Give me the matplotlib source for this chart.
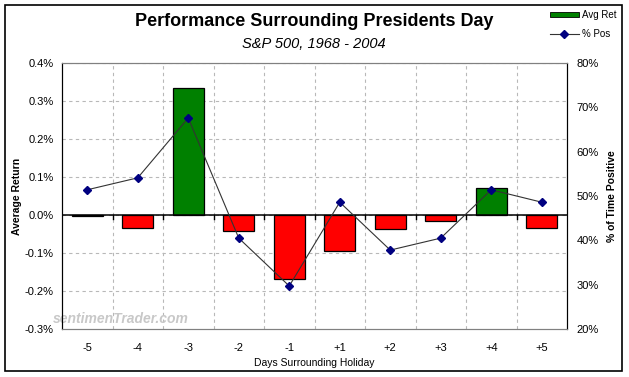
import numpy as np
import matplotlib.pyplot as plt
from matplotlib.ticker import FuncFormatter
from matplotlib.lines import Line2D
from matplotlib.patches import Patch, Rectangle

days = ['-5', '-4', '-3', '-2', '-1', '+1', '+2', '+3', '+4', '+5']
avg_ret = [-0.003, -0.034, 0.334, -0.042, -0.168, -0.095, -0.037, -0.016, 0.071, -0.035]
pct_pos = [51.4, 54.1, 67.6, 40.5, 29.7, 48.6, 37.8, 40.5, 51.4, 48.6]

plt.rcParams['font.family'] = ['Liberation Sans', 'DejaVu Sans']

fig = plt.figure(figsize=(6.29, 3.77), dpi=100)
W, H = 629, 377
ax = fig.add_axes([62 / W, 1 - 329 / H, (567 - 62) / W, (329 - 63) / H])
x = np.arange(len(days))
colors = ['#008000' if v > 0 else '#ff0000' for v in avg_ret]
ax.bar(x, avg_ret, width=0.62, color=colors, edgecolor='black', linewidth=0.9, zorder=3)
ax.set_xlim(-0.5, len(days) - 0.5)
ax.set_ylim(-0.3, 0.4)
ax.set_yticks(np.arange(-0.3, 0.41, 0.1))
ax.yaxis.set_major_formatter(FuncFormatter(lambda v, p: '%.1f%%' % v))
ax.set_xticks(x)
ax.set_xticklabels(days, fontsize=8)
ax.tick_params(axis='x', length=0, pad=10)
ax.tick_params(axis='y', labelsize=8, length=0, pad=6)
ax.axhline(0, color='black', lw=1.1, zorder=4)
# grid: horizontal at ticks, vertical at category boundaries
for yv in np.arange(-0.2, 0.4, 0.1):
    ax.axhline(yv, color='#b8b8b8', lw=0.8, ls=(0, (3, 3)), zorder=1)
for b in np.arange(0.5, len(days) - 0.5, 1):
    ax.axvline(b, color='#b8b8b8', lw=0.8, ls=(0, (3, 3)), zorder=1)
    ax.plot([b, b], [0, -0.011], color='black', lw=1, zorder=4)
for s in ['top', 'bottom']:
    ax.spines[s].set_color('#808080')
for s in ['left', 'right']:
    ax.spines[s].set_color('black')
ax.set_ylabel('Average Return', fontsize=7.5, fontweight='bold')
ax.yaxis.set_label_coords(-0.080, 0.5)
ax.set_xlabel('Days Surrounding Holiday', fontsize=7.5, labelpad=4)

ax.text(-0.68, -0.273, 'sentimenTrader.com', color='#c8c8c8', fontsize=10,
        fontweight='bold', style='italic', ha='left', va='center', zorder=2)

ax2 = ax.twinx()
ax2.plot(x, pct_pos, color='#333333', lw=0.8, marker='D', markersize=4.5,
         markerfacecolor='#000080', markeredgecolor='#000080', zorder=5)
ax2.set_ylim(20, 80)
ax2.set_yticks(np.arange(20, 81, 10))
ax2.yaxis.set_major_formatter(FuncFormatter(lambda v, p: '%d%%' % v))
ax2.tick_params(axis='y', labelsize=8, length=0, pad=7)
ax2.set_ylabel('% of Time Positive', fontsize=7.5, fontweight='bold')
ax2.yaxis.set_label_coords(1.079, 0.5)
for s in ['top', 'bottom']:
    ax2.spines[s].set_color('#808080')
ax2.spines['left'].set_color('black')
ax2.spines['right'].set_color('black')

fig.text(0.499, 1 - 21 / H, 'Performance Surrounding Presidents Day', fontsize=13,
         fontweight='bold', ha='center', va='center')
fig.text(0.499, 1 - 44 / H, 'S&P 500, 1968 - 2004', fontsize=10.5, style='italic',
         ha='center', va='center')

handles = [Patch(facecolor='#008000', edgecolor='black', linewidth=0.6),
           Line2D([], [], color='#333333', lw=0.8, marker='D', markersize=4,
                  markerfacecolor='#000080', markeredgecolor='#000080')]
fig.legend(handles, ['Avg Ret', '% Pos'], loc='upper left', bbox_to_anchor=(544 / W, 1 - 4 / H),
           frameon=False, fontsize=7, handlelength=3.0, handleheight=0.5, handletextpad=0.35,
           labelspacing=0.95, borderaxespad=0.2)

fig.patches.append(Rectangle((5 / W, 1 - 371 / H), (622 - 5) / W, (371 - 5) / H,
                             transform=fig.transFigure, fill=False, edgecolor='black', lw=1.2))

fig.savefig('out.png', dpi=100)
